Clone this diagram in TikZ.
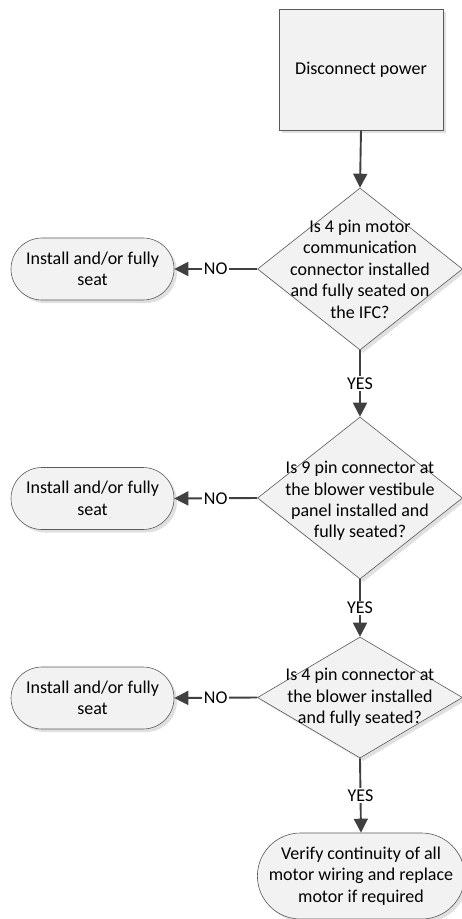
\documentclass[tikz,border=0pt]{standalone}
\usepackage{fontspec}
\setmainfont{Carlito}
\usetikzlibrary{shapes.geometric,shapes.misc,arrows.meta,shadows}
\definecolor{edgec}{HTML}{404040}
\definecolor{linec}{HTML}{595959}
\definecolor{fillc}{HTML}{F2F2F2}
\begin{document}
\begin{tikzpicture}[x=1pt,y=-1pt, font=\fontsize{18}{21.5}\selectfont,
  shapebase/.style={draw=linec, line width=0.6pt, fill=fillc,
    drop shadow={shadow xshift=3pt,shadow yshift=-3pt,fill=black!12,opacity=1}},
  procbox/.style={shapebase, rectangle, minimum width=164pt, minimum height=121pt, inner sep=0pt},
  decision/.style={shapebase, diamond, minimum width=205pt, minimum height=162pt, inner sep=0pt},
  terminal/.style={shapebase, rounded rectangle, minimum width=163pt, minimum height=62pt, inner sep=0pt, align=center},
  txt/.style={align=center, inner sep=0pt},
  flow/.style={draw=edgec, line width=1.9pt, -{Triangle[width=14pt,length=14pt]}},
  lbl/.style={fill=white, inner sep=1.5pt}]
\useasboundingbox (0,0) rectangle (462,919);
\fill[white] (0,0) rectangle (462,919);

\node[procbox] (p) at (361,69.5) {Disconnect power};

\node[decision] (d1) at (360,269) {};
\node[txt] (d1t) at (d1.center) {Is 4 pin motor\\communication\\connector installed\\and fully seated on\\the IFC?};
\node[terminal] (t1) at (92.5,269) {Install and/or fully\\seat};

\node[decision] (d2) at (360,498) {};
\node[txt] (d2t) at ([yshift=-3pt]d2.center) {Is 9 pin connector at\\the blower vestibule\\panel installed and\\fully seated?};
\node[terminal] (t2) at (92.5,498.5) {Install and/or fully\\seat};

\node[decision, minimum height=121pt] (d3) at (360,697.5) {};
\node[txt] (d3t) at (d3.center) {Is 4 pin connector at\\the blower installed\\and fully seated?};
\node[terminal] (t3) at (92.5,698) {Install and/or fully\\seat};

\node[terminal, minimum width=201pt, minimum height=86pt] (f) at (361,876) {Verify continuity of all\\motor wiring and replace\\motor if required};

\draw[flow] (p.south) -- (d1.north);
\draw[flow] (d1.west) -- node[lbl] (n1) {NO} (t1.east);
\draw[flow] (d1.south) -- node[lbl] (y1) {YES} (d2.north);
\draw[flow] (d2.west) -- node[lbl] (n2) {NO} (t2.east);
\draw[flow] (d2.south) -- node[lbl] (y2) {YES} (d3.north);
\draw[flow] (d3.west) -- node[lbl] (n3) {NO} (t3.east);
\draw[flow] (d3.south) -- node[lbl] (y3) {YES} (f.north);
\end{tikzpicture}
\end{document}
